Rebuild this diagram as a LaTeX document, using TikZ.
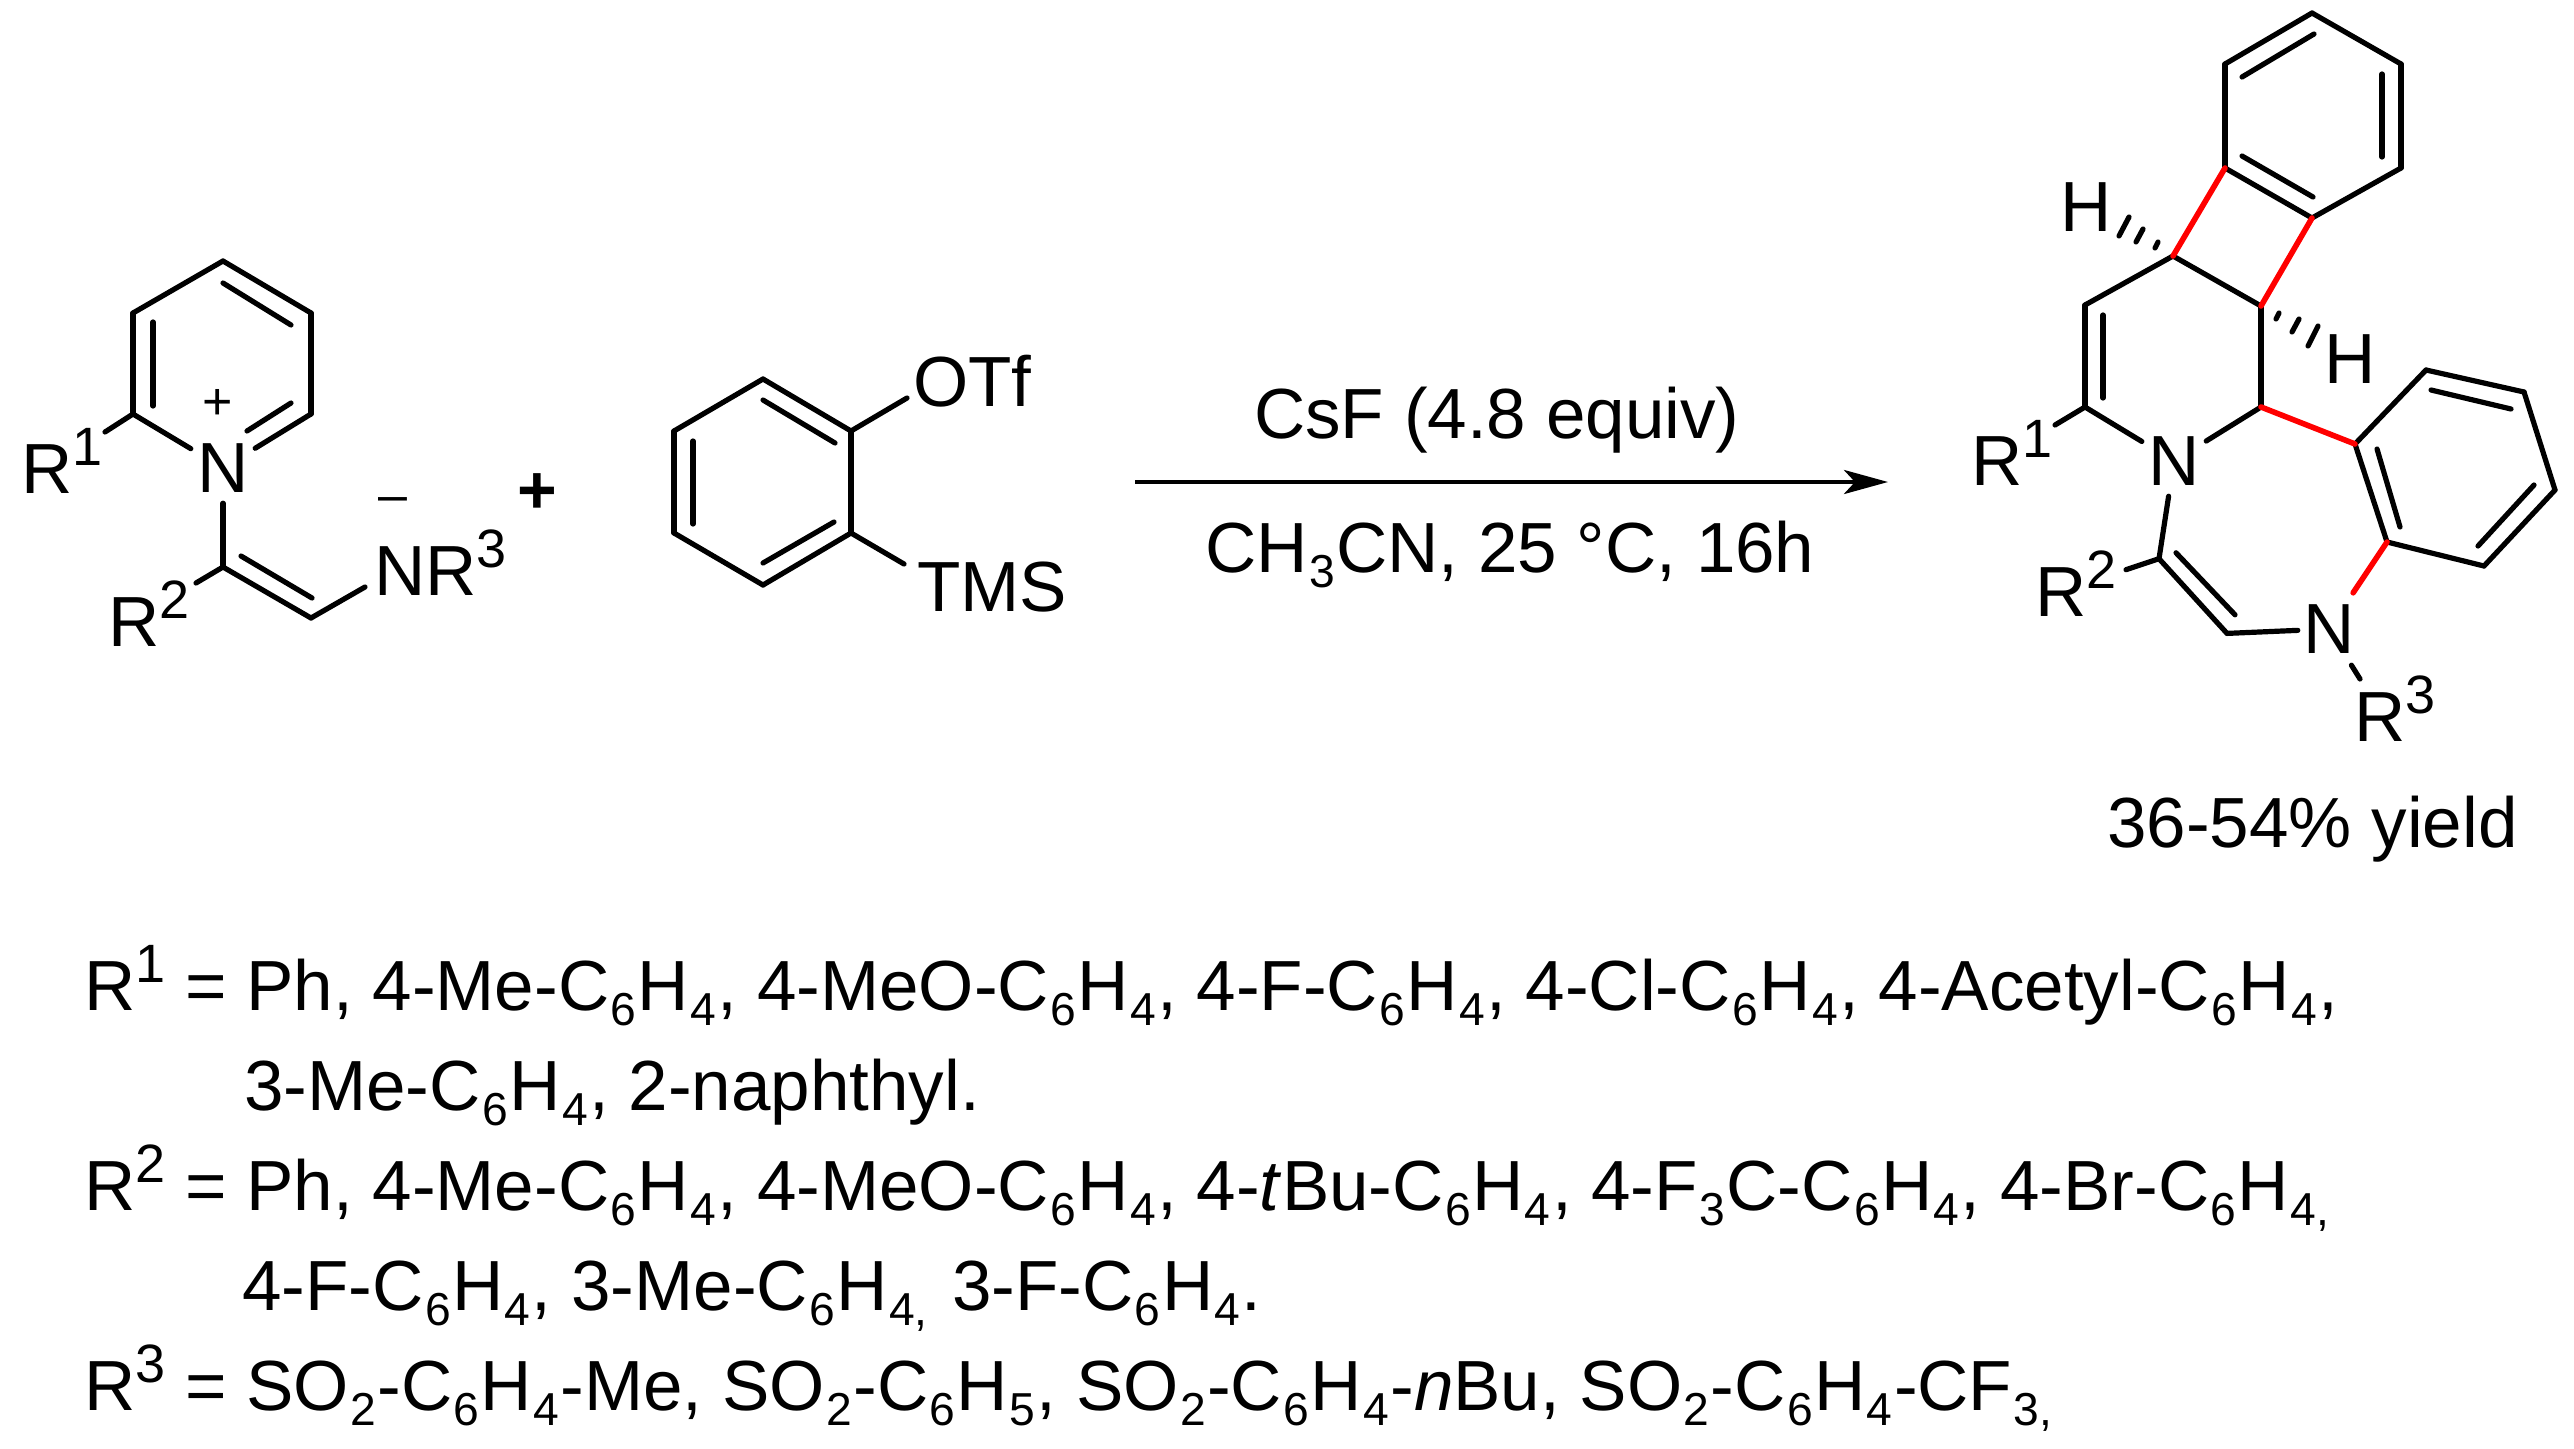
\documentclass[tikz,border=0pt]{standalone}
\usepackage{fontspec}
\setmainfont{Liberation Sans}
\usetikzlibrary{arrows.meta}
\newcommand{\supr}[1]{\raisebox{28pt}{\fontsize{54}{54}\selectfont #1}}
\newcommand{\subr}[1]{\kern1.4pt\raisebox{-15pt}{\fontsize{46.2}{46}\selectfont #1}\kern1.4pt}
\tikzset{
  bond/.style={line width=5.2pt,line cap=round,line join=round,black},
  redbond/.style={line width=5.6pt,line cap=round,red},
  hashbar/.style={line width=5.2pt,line cap=round,black},
  atom/.style={inner sep=0pt,minimum width=64pt,minimum height=70pt,font=\fontsize{71}{80}\selectfont},
  txt/.style={inner sep=0pt,anchor=base west,font=\fontsize{71}{80}\selectfont},
  charge/.style={inner sep=0pt,font=\fontsize{52}{52}\selectfont},
}
\begin{document}
\begin{tikzpicture}[x=1pt,y=-1pt]
\useasboundingbox (0,0) rectangle (2574,1448);
% ---------- pyridinium reactant
\coordinate (p1) at (223,261);
\coordinate (p2) at (133,313);
\coordinate (p3) at (133,414);
\coordinate (p5) at (311,414);
\coordinate (p6) at (311,313);
\coordinate (pi1) at (153,322);
\coordinate (pi2) at (153,406);
\coordinate (pi3) at (223,283);
\coordinate (pi4) at (291,325);
\coordinate (pi5) at (291,403);
\coordinate (pi6) at (247,431);
\node[atom] (Np) at (223,468) {N};
\node[charge] (plusp) at (218,404) {+};
\coordinate (v1) at (223,567);
\coordinate (v2) at (311,618);
\coordinate (vi1) at (241,556);
\coordinate (vi2) at (312,598);
\coordinate (nr3end) at (365,587);
\coordinate (r1end) at (105,432);
\coordinate (r2end) at (196,583);
\node[txt] (R1a) at (21.5,493) {R\supr{1}};
\node[txt] (R2a) at (108.5,646) {R\supr{2}};
\node[txt] (NR3) at (374,595) {NR\supr{3}};
\node[charge] (minus) at (393,505) {–};
\foreach \a/\b in {p1/p2,p2/p3,p1/p6,p6/p5,pi1/pi2,pi3/pi4,pi5/pi6,p3/r1end,v1/v2,vi1/vi2,v2/nr3end,v1/r2end}
  \draw[bond] (\a) -- (\b);
\draw[bond] (p3) -- (Np);
\draw[bond] (p5) -- (Np);
\draw[bond] (Np) -- (v1);
% ---------- big plus
\node[inner sep=0pt,font=\fontsize{68}{68}\selectfont\bfseries] (plusbig) at (537,494) {+};
% ---------- aryne precursor
\coordinate (b1) at (763,379);
\coordinate (b2) at (674,431);
\coordinate (b3) at (674,533);
\coordinate (b4) at (763,585);
\coordinate (b5) at (851,533);
\coordinate (b6) at (851,431);
\coordinate (bi1) at (763,400);
\coordinate (bi2) at (835,443);
\coordinate (bi3) at (693,441);
\coordinate (bi4) at (693,524);
\coordinate (bi5) at (763,563);
\coordinate (bi6) at (834,522);
\coordinate (otfend) at (907,398);
\coordinate (tmsend) at (904,564);
\node[txt] (OTf) at (913,406) {OTf};
\node[txt] (TMS) at (917,611) {TMS};
\foreach \a/\b in {b1/b2,b2/b3,b3/b4,b4/b5,b5/b6,b6/b1,bi1/bi2,bi3/bi4,bi5/bi6,b6/otfend,b5/tmsend}
  \draw[bond] (\a) -- (\b);
% ---------- arrow
\coordinate (arrowstart) at (1135,482);
\coordinate (arrowend) at (1888,482);
\draw[line width=4.6pt,-{Stealth[length=44pt,width=24pt,inset=11pt]}] (arrowstart) -- (arrowend);
\node[txt] (cond1) at (1254,438) {CsF (4.8 equiv)};
\node[txt] (cond2) at (1205,572) {CH\subr{3}CN, 25 °C, 16h};
% ---------- product
\coordinate (q1) at (2312,13);
\coordinate (q2) at (2225,64);
\coordinate (q3) at (2225,168);
\coordinate (q4) at (2312,218);
\coordinate (q5) at (2401,168);
\coordinate (q6) at (2401,64);
\coordinate (qi1) at (2314,34);
\coordinate (qi2) at (2242,77);
\coordinate (qi3) at (2382,74);
\coordinate (qi4) at (2382,157);
\coordinate (qi5) at (2242,156);
\coordinate (qi6) at (2313,197);
\coordinate (c1) at (2173,256);
\coordinate (c2) at (2261,306);
\coordinate (c3) at (2085,305);
\coordinate (c4) at (2085,407);
\coordinate (ci1) at (2103,315);
\coordinate (ci2) at (2103,398);
\coordinate (c5) at (2261,407);
\coordinate (a1) at (2355,444);
\coordinate (a2) at (2426,370);
\coordinate (a3) at (2524,392);
\coordinate (a4) at (2555,490);
\coordinate (a5) at (2484,566);
\coordinate (a6) at (2387,542);
\coordinate (ai1) at (2431,390);
\coordinate (ai2) at (2511,409);
\coordinate (ai3) at (2534,485);
\coordinate (ai4) at (2478,546);
\coordinate (ai5) at (2377,449);
\coordinate (ai6) at (2400,527);
\coordinate (d1) at (2159,558.7);
\coordinate (d2) at (2227,633.4);
\coordinate (di1) at (2176,552.8);
\coordinate (di2) at (2235,614.8);
\coordinate (pr1end) at (2055,425);
\coordinate (pr2end) at (2126,569.7);
\coordinate (pr3end) at (2360,679);
\node[atom] (Nq) at (2174,461) {N};
\node[atom,minimum width=62pt,minimum height=72pt] (Nr) at (2329,629) {N};
\node[txt] (H1) at (2060,231) {H};
\node[txt] (H2) at (2324,383) {H};
\node[txt] (R1b) at (1971,485.7) {R\supr{1}};
\node[txt] (R2b) at (2035,616.5) {R\supr{2}};
\node[txt] (R3b) at (2354,741) {R\supr{3}};
\node[txt] (yield) at (2107,847) {36-54\% yield};
\foreach \a/\b in {q1/q2,q2/q3,q3/q4,q4/q5,q5/q6,q6/q1,qi1/qi2,qi3/qi4,qi5/qi6,c1/c2,c1/c3,c3/c4,ci1/ci2,c2/c5,c4/pr1end,a1/a2,a2/a3,a3/a4,a4/a5,a5/a6,a6/a1,ai1/ai2,ai3/ai4,ai5/ai6,d1/d2,di1/di2,d1/pr2end}
  \draw[bond] (\a) -- (\b);
\draw[bond] (c4) -- (Nq);
\draw[bond] (c5) -- (Nq);
\draw[bond] (Nq) -- (d1);
\draw[bond] (d2) -- (Nr);
\draw[bond] (Nr) -- (pr3end);
\draw[redbond] (q3) -- (c1);
\draw[redbond] (q4) -- (c2);
\draw[redbond] (c5) -- (a1);
\draw[redbond] (a6) -- (Nr);
% hashed stereo bonds
\coordinate (ha1) at (2119,236); \coordinate (ha2) at (2129,217);
\coordinate (ha3) at (2136,242); \coordinate (ha4) at (2143,229);
\coordinate (ha5) at (2155,248); \coordinate (ha6) at (2158,242);
\coordinate (hb1) at (2276,319); \coordinate (hb2) at (2279,313);
\coordinate (hb3) at (2292,332); \coordinate (hb4) at (2299,319);
\coordinate (hb5) at (2308,346); \coordinate (hb6) at (2318,326);
\foreach \a/\b in {ha1/ha2,ha3/ha4,ha5/ha6,hb1/hb2,hb3/hb4,hb5/hb6}
  \draw[hashbar] (\a) -- (\b);
% ---------- substituent list
\node[txt] (l1) at (84,1010) {R\supr{1} = Ph, 4-Me-C\subr{6}H\subr{4}, 4-MeO-C\subr{6}H\subr{4}, 4-F-C\subr{6}H\subr{4}, 4-Cl-C\subr{6}H\subr{4}, 4-Acetyl-C\subr{6}H\subr{4},};
\node[txt] (l2) at (244,1110) {3-Me-C\subr{6}H\subr{4}, 2-naphthyl.};
\node[txt] (l3) at (84,1210) {R\supr{2} = Ph, 4-Me-C\subr{6}H\subr{4}, 4-MeO-C\subr{6}H\subr{4}, 4-\textit{t}Bu-C\subr{6}H\subr{4}, 4-F\subr{3}C-C\subr{6}H\subr{4}, 4-Br-C\subr{6}H\subr{4,}};
\node[txt] (l4) at (242,1310) {4-F-C\subr{6}H\subr{4}, 3-Me-C\subr{6}H\subr{4,}\hspace{23pt}3-F-C\subr{6}H\subr{4}.};
\node[txt] (l5) at (84,1410) {R\supr{3} = SO\subr{2}-C\subr{6}H\subr{4}-Me, SO\subr{2}-C\subr{6}H\subr{5}, SO\subr{2}-C\subr{6}H\subr{4}-\textit{n}Bu, SO\subr{2}-C\subr{6}H\subr{4}-CF\subr{3,}};
\end{tikzpicture}
\end{document}
